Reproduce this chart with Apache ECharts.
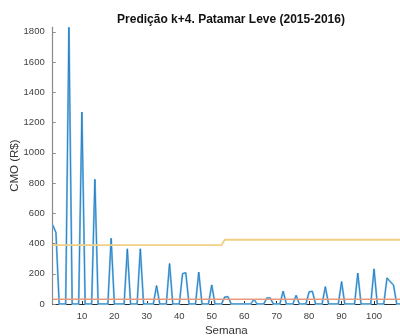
<!DOCTYPE html>
<html>
<head>
<meta charset="utf-8">
<script src="https://cdn.jsdelivr.net/npm/echarts@6/dist/echarts.min.js"></script>
<style>
  html, body { margin: 0; padding: 0; background: #fff; }
  #chart { width: 400px; height: 336px; }
</style>
</head>
<body>
<div id="chart"></div>
<script>
// Weekly marginal operating cost (CMO), light load level, 4-step-ahead prediction
const weeks = [];
for (let w = 1; w <= 108; w++) weeks.push(w);

const cmo = [
  523, 472, 0, 0, 0, 1830, 0, 0, 0, 1270,
  0, 0, 0, 825, 0, 0, 0, 0, 435, 0,
  0, 0, 0, 365, 0, 0, 0, 365, 0, 0,
  0, 0, 122, 0, 0, 0, 268, 0, 0, 0,
  200, 207, 0, 0, 0, 211, 0, 0, 0, 126,
  0, 0, 0, 46, 48, 0, 0, 0, 0, 0,
  0, 0, 30, 0, 0, 0, 40, 40, 0, 0,
  0, 85, 0, 0, 0, 57, 0, 0, 0, 80,
  84, 0, 0, 0, 115, 0, 0, 0, 0, 148,
  0, 0, 0, 0, 205, 0, 0, 0, 0, 232,
  0, 0, 0, 172, 148, 125, 0, 0
];

// Upper reference level: steps up after week 53
const upperLevel = weeks.map(w => (w <= 53 ? 390 : 425));
// Lower reference level
const lowerLevel = weeks.map(() => 32);

const xTicks = [10, 20, 30, 40, 50, 60, 70, 80, 90, 100];
const yTicks = [0, 200, 400, 600, 800, 1000, 1200, 1400, 1600, 1800];

const pair = (arr) => weeks.map((w, i) => [w, arr[i]]);

const chart = echarts.init(document.getElementById('chart'), null, { renderer: 'canvas' });
chart.setOption({
  animation: false,
  title: {
    text: 'Predição k+4. Patamar Leve (2015-2016)',
    left: 226,
    textAlign: 'center',
    top: 9,
    textStyle: { fontFamily: 'Liberation Sans, Arial', fontSize: 12, fontWeight: 'bold', color: '#111' }
  },
  grid: { left: 52.7, right: 0, top: 27.3, bottom: 32, containLabel: false, outerBoundsMode: 'none' },
  xAxis: {
    type: 'value',
    min: 1,
    max: 108,
    name: 'Semana',
    nameLocation: 'middle',
    nameGap: 21,
    nameMoveOverlap: false,
    nameTextStyle: { fontFamily: 'Liberation Sans, Arial', fontSize: 11.5, color: '#333' },
    axisLine: { lineStyle: { color: '#2a2a2a', width: 1 } },
    axisTick: { inside: true, length: 3, lineStyle: { color: '#2a2a2a' }, customValues: xTicks },
    axisLabel: { customValues: xTicks, margin: 7, fontFamily: 'Liberation Sans, Arial', fontSize: 9.5, color: '#404040', formatter: v => String(v) },
    splitLine: { show: false }
  },
  yAxis: {
    type: 'value',
    min: 0,
    max: 1830,
    name: 'CMO (R$)',
    nameLocation: 'middle',
    nameGap: 32,
    nameMoveOverlap: false,
    nameTextStyle: { fontFamily: 'Liberation Sans, Arial', fontSize: 11.5, color: '#333' },
    axisLine: { show: true, lineStyle: { color: '#8a8a8a', width: 1.2 } },
    axisTick: { show: true, inside: true, length: 3, lineStyle: { color: '#8a8a8a' }, customValues: yTicks },
    axisLabel: { customValues: yTicks, margin: 8, fontFamily: 'Liberation Sans, Arial', fontSize: 9.5, color: '#404040', formatter: v => String(v) },
    splitLine: { show: false }
  },
  series: [
    {
      name: 'CMO halo',
      type: 'line',
      data: pair(cmo),
      symbol: 'none',
      clip: true,
      lineStyle: { color: '#8cc4ea', width: 2 },
      z: 2
    },
    {
      name: 'CMO',
      type: 'line',
      data: pair(cmo),
      symbol: 'none',
      clip: true,
      lineStyle: { color: '#1474bd', width: 0.8 },
      z: 3
    },
    {
      name: 'Nível superior',
      type: 'line',
      data: pair(upperLevel),
      symbol: 'none',
      lineStyle: { color: '#f1d083', width: 1.8 },
      z: 4
    },
    {
      name: 'Nível inferior',
      type: 'line',
      data: pair(lowerLevel),
      symbol: 'none',
      lineStyle: { color: '#e99a7c', width: 1.5 },
      z: 4
    }
  ]
});
</script>
</body>
</html>
